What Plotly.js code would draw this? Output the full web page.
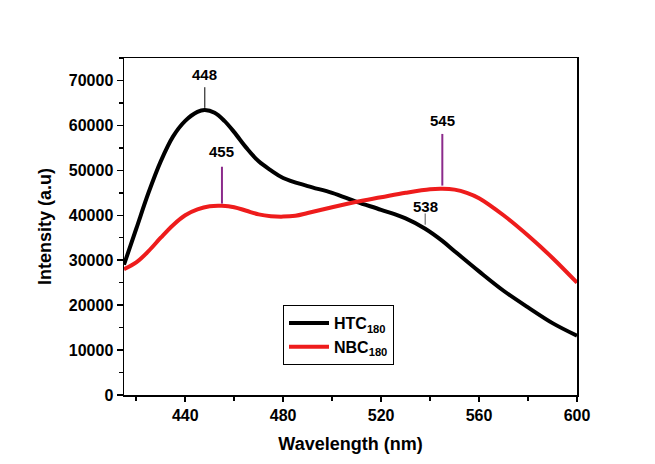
<!DOCTYPE html>
<html><head><meta charset="utf-8">
<script src="https://cdn.plot.ly/plotly-3.0.1.min.js"></script>
<style>html,body{margin:0;padding:0;background:#fff}#c{width:655px;height:464px}</style>
</head><body><div id="c"></div>
<script>
const htcX = [415,420,425,430,435,440,445,448,452,456,460,465,470,475,480,490,500,510,520,530,538,545,550,560,570,580,590,600];
const htcY = [29000,37000,45000,52000,57500,61000,63000,63400,62800,61000,58500,55000,52000,50000,48300,46500,45000,43000,41200,39300,37000,34300,32000,27500,23200,19500,16000,13200];
const nbcX = [415,420,425,430,435,440,445,450,455,460,465,470,475,480,485,490,500,510,520,530,540,545,550,555,560,570,580,590,600];
const nbcY = [28000,29500,32000,35000,37800,40000,41300,42000,42100,41800,41000,40200,39800,39700,39900,40500,41800,43000,44000,45000,45800,45900,45700,45000,43800,40000,35500,30500,25000];
const seriesNames = ["HTC<sub>180</sub>", "NBC<sub>180</sub>"];
const peakLabels = ["448", "455", "545", "538"];
const peakX = [448, 455, 545, 538];
const peakTextY = [71400, 54100, 61000, 41900];
const peakLineTop = [68500, 50800, 58100, 40400];
const peakLineBottom = [63900, 42600, 46600, 37900];
const peakLineColor = ["#000000", "#8b2a8b", "#8b2a8b", "#555555"];

const F = "Liberation Sans, Arial, sans-serif";
const traces = [
  {x: htcX, y: htcY, name: seriesNames[0], mode: "lines", line: {color: "#000000", width: 4, shape: "spline"}},
  {x: nbcX, y: nbcY, name: seriesNames[1], mode: "lines", line: {color: "#ee1c1c", width: 4, shape: "spline"}}
];
const annotations = peakLabels.map((t, i) => ({
  x: peakX[i], y: peakTextY[i], xref: "x", yref: "y", text: "<b>" + t + "</b>", showarrow: false,
  font: {family: F, size: 15, color: "#000"}
}));
const shapes = peakLabels.map((t, i) => ({
  type: "line", xref: "x", yref: "y", x0: peakX[i], x1: peakX[i], y0: peakLineBottom[i], y1: peakLineTop[i],
  line: {color: peakLineColor[i], width: i === 0 || i === 3 ? 1 : 2}
}));
const layout = {
  width: 655, height: 464,
  margin: {l: 124, r: 78, t: 58, b: 69},
  paper_bgcolor: "#ffffff", plot_bgcolor: "#ffffff",
  showlegend: true,
  legend: {x: 0.351, y: 0.267, xanchor: "left", yanchor: "top", bordercolor: "#000", borderwidth: 1,
           bgcolor: "#ffffff", font: {family: F, size: 16, color: "#000", weight: "bold"}, tracegroupgap: 0,
           itemwidth: 40},
  xaxis: {range: [415, 600], dtick: 40, tick0: 440, ticks: "outside", ticklen: 5, tickwidth: 1.5, tickcolor: "#000",
          showline: true, linecolor: "#000", linewidth: 1.5, mirror: true, showgrid: false, zeroline: false,
          minor: {dtick: 20, tick0: 420, ticks: "outside", ticklen: 4, tickcolor: "#000", showgrid: false},
          tickfont: {family: F, size: 16, color: "#000", weight: "bold"},
          title: {text: "Wavelength (nm)", font: {family: F, size: 18, color: "#000", weight: "bold"}, standoff: 14}},
  yaxis: {range: [0, 75000], dtick: 10000, tickformat: "d", ticks: "outside", ticklen: 6, tickwidth: 1.5, tickcolor: "#000",
          showline: true, linecolor: "#000", linewidth: 1.5, mirror: true, showgrid: false, zeroline: false,
          minor: {dtick: 5000, ticks: "outside", ticklen: 4, tickcolor: "#000", showgrid: false},
          tickfont: {family: F, size: 16, color: "#000", weight: "bold"},
          title: {text: "Intensity (a.u)", font: {family: F, size: 18, color: "#000", weight: "bold"}, standoff: 12}},
  annotations: annotations,
  shapes: shapes
};
Plotly.newPlot("c", traces, layout, {displayModeBar: false, staticPlot: true});
</script></body></html>
